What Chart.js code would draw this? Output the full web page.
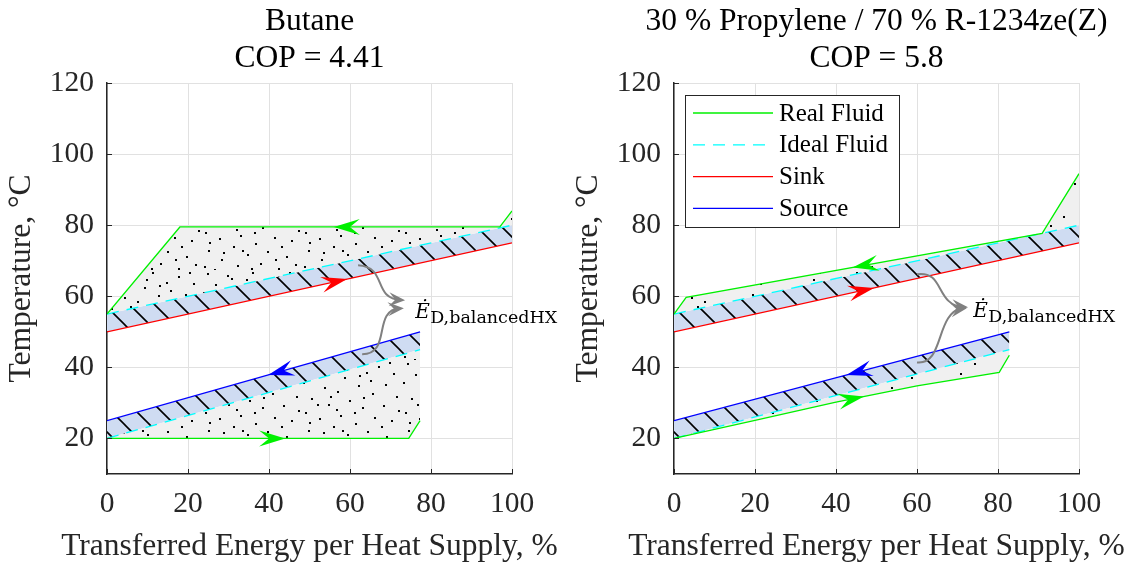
<!DOCTYPE html>
<html>
<head>
<meta charset="utf-8">
<script src="https://cdn.jsdelivr.net/npm/chart.js@4.4.0/dist/chart.umd.min.js"></script>
<style>
  html, body { margin: 0; padding: 0; background: #fff; }
  #wrap { width: 1134px; height: 567px; display: flex; }
  canvas { display: block; }
</style>
</head>
<body>
<div id="wrap">
  <canvas id="left" width="567" height="567"></canvas>
  <canvas id="right" width="567" height="567"></canvas>
</div>
<script>
// tick labels
const xTicks = [0, 20, 40, 60, 80, 100];
const yTicks = [20, 40, 60, 80, 100, 120];
const xTitle = 'Transferred Energy per Heat Supply, %';
const yTitle = 'Temperature, \u00B0C';

// Butane, COP = 4.41  -> [transferred energy %, temperature °C]
const butaneRealHot = [[0, 55], [18, 79.5], [97, 79.5], [100, 84]];
const butaneIdealHot = [[0, 55], [100, 80]];
const butaneSink = [[0, 50], [100, 75]];
const butaneRealCold = [[0, 20], [74.5, 20], [77.3, 25]];
const butaneIdealCold = [[0, 20], [77.3, 45]];
const butaneSource = [[0, 25], [77.3, 50]];

// 30 % Propylene / 70 % R-1234ze(Z), COP = 5.8
const mixRealHot = [[0, 55], [3, 59.7], [90.9, 77.7], [100, 94.5]];
const mixIdealHot = [[0, 55], [100, 80]];
const mixSink = [[0, 50], [100, 75]];
const mixRealCold = [[0, 20], [20, 25.1], [40, 30.2], [60, 34.8], [80.3, 38.6], [82.8, 43.4]];
const mixIdealCold = [[0, 20], [82.8, 45]];
const mixSource = [[0, 25], [82.8, 50]];

// flow direction arrows: [series index, x position of tip, direction]
const butaneArrows = [[0, 56, -1], [2, 59.3, 1], [5, 39.8, -1], [3, 44, 1]];
const mixArrows = [[0, 44.1, -1], [2, 49.4, 1], [5, 42.6, -1], [3, 46.9, 1]];

// exergy destruction label + curved pointers (data coords)
const butaneNote = { at: [76.1, 53.8], curves: [
  [[62.0, 68.7], [69.4, 68.2], [65.4, 59.4], [73.6, 58.9]],
  [[63.0, 43.7], [70.4, 43.7], [65.4, 56.1], [73.3, 56.6]]] };
const mixNote = { at: [73.9, 54.1], curves: [
  [[60.0, 66.2], [66.9, 67.3], [64.4, 57.5], [72.6, 56.9]],
  [[60.0, 41.4], [66.9, 40.6], [64.4, 55.5], [72.3, 56.6]]] };

const GREEN = '#00f000', CYAN = '#00ffff', RED = '#ff0000', BLUE = '#0000ff';
const AXIS = '#262626';
const serif = '"Liberation Serif", "Times New Roman", serif';

// texture for the entropy regions (tile 100 x 90)
const dotSpots = [[7,3],[31,8],[52,2],[78,6],[93,13],[15,14],[44,17],[66,12],[85,24],[3,22],
  [24,27],[58,25],[37,31],[72,33],[96,36],[11,38],[49,40],[28,44],[83,45],[62,47],
  [5,52],[40,55],[19,58],[74,57],[91,60],[55,63],[33,66],[8,70],[67,71],[47,74],
  [86,76],[21,79],[60,83],[37,85],[4,86],[78,88],[95,84],[14,89],[51,88],[27,5],
  [89,2],[70,20],[17,44],[54,52],[42,70],[81,66],[30,36],[63,37],[9,62],[98,50],
  [46,9],[75,79],[23,72],[59,15],[36,49]];

function dotPattern(ctx, every) {
  const c = document.createElement('canvas');
  c.width = 100; c.height = 90;
  const g = c.getContext('2d');
  g.fillStyle = 'rgb(240,240,240)';
  g.fillRect(0, 0, 100, 90);
  g.fillStyle = '#000';
  dotSpots.filter((p, i) => i % every === 0).forEach(p => g.fillRect(p[0], p[1] % 90, 2, 2));
  return ctx.createPattern(c, 'repeat');
}

function hatchPattern(ctx) {
  const P = 25;
  const c = document.createElement('canvas');
  c.width = P; c.height = P;
  const g = c.getContext('2d');
  g.fillStyle = 'rgb(207,220,242)';
  g.fillRect(0, 0, P, P);
  g.strokeStyle = '#000';
  g.lineWidth = 1.6;
  g.beginPath();
  g.moveTo(-2, -2); g.lineTo(P + 2, P + 2);
  g.moveTo(P - 2, -2); g.lineTo(P + 2, 2);
  g.moveTo(-2, P - 2); g.lineTo(2, P + 2);
  g.stroke();
  return ctx.createPattern(c, 'repeat');
}

function arrowHead(ctx, tx, ty, ux, uy, len, wid, color) {
  const nx = -uy, ny = ux;
  ctx.beginPath();
  ctx.moveTo(tx, ty);
  ctx.lineTo(tx - ux * len + nx * wid / 2, ty - uy * len + ny * wid / 2);
  ctx.lineTo(tx - ux * len * 0.62, ty - uy * len * 0.62);
  ctx.lineTo(tx - ux * len - nx * wid / 2, ty - uy * len - ny * wid / 2);
  ctx.closePath();
  ctx.fillStyle = color;
  ctx.fill();
}

function buildChart(id, title, series, arrows, note, showLegend, dotEvery) {
  const canvas = document.getElementById(id);
  const ctx = canvas.getContext('2d');
  const grey = dotPattern(ctx, dotEvery);
  const hatch = hatchPattern(ctx);
  const line = (label, pts, color, extra) => Object.assign({
    label: label,
    data: pts.map(p => ({ x: p[0], y: p[1] })),
    borderColor: color, borderWidth: 1.3, pointRadius: 0, fill: false, tension: 0
  }, extra);

  const datasets = [
    line('Real Fluid', series[0], GREEN, { fill: { target: 1 }, backgroundColor: grey }),
    line('Ideal Fluid', series[1], CYAN, { fill: { target: 2 }, backgroundColor: hatch, borderDash: [12, 8] }),
    line('Sink', series[2], RED),
    line('Real Fluid', series[3], GREEN, { fill: { target: 4 }, backgroundColor: grey }),
    line('Ideal Fluid', series[4], CYAN, { borderDash: [12, 8] }),
    line('Source', series[5], BLUE, { fill: { target: 4 }, backgroundColor: hatch })
  ];

  const decor = {
    id: 'decor',
    afterDatasetsDraw(chart) {
      const c = chart.ctx, sx = chart.scales.x, sy = chart.scales.y;
      // flow arrows on the lines
      arrows.forEach(([si, xv, dir]) => {
        const pts = series[si];
        let k = 1;
        while (k < pts.length - 1 && xv > pts[k][0]) k++;
        const x0 = sx.getPixelForValue(pts[k - 1][0]), y0 = sy.getPixelForValue(pts[k - 1][1]);
        const x1 = sx.getPixelForValue(pts[k][0]), y1 = sy.getPixelForValue(pts[k][1]);
        const tx = sx.getPixelForValue(xv);
        const ty = y0 + (y1 - y0) * (tx - x0) / (x1 - x0);
        const L = Math.hypot(x1 - x0, y1 - y0);
        arrowHead(c, tx, ty, dir * (x1 - x0) / L, dir * (y1 - y0) / L, 26, 16, datasets[si].borderColor);
      });
      // curved pointers to the label
      c.save();
      c.strokeStyle = '#808080';
      c.lineWidth = 2;
      note.curves.forEach(cv => {
        const p = cv.map(q => [sx.getPixelForValue(q[0]), sy.getPixelForValue(q[1])]);
        c.beginPath();
        c.moveTo(p[0][0], p[0][1]);
        c.bezierCurveTo(p[1][0], p[1][1], p[2][0], p[2][1], p[3][0] - 4, p[3][1]);
        c.stroke();
        const dx = p[3][0] - p[2][0], dy = p[3][1] - p[2][1], d = Math.hypot(dx, dy);
        arrowHead(c, p[3][0], p[3][1], dx / d, dy / d, 16, 14, '#808080');
      });
      const tx = sx.getPixelForValue(note.at[0]), ty = sy.getPixelForValue(note.at[1]);
      c.fillStyle = '#000';
      c.textAlign = 'left';
      c.textBaseline = 'alphabetic';
      c.font = 'italic 20px "DejaVu Serif"';
      c.fillText('\u0116', tx, ty);
      c.font = '17.5px "DejaVu Serif"';
      c.fillText('D,balancedHX', tx + 15, ty + 5);
      c.restore();
    },
    afterDraw(chart) {
      const c = chart.ctx, a = chart.chartArea, sx = chart.scales.x, sy = chart.scales.y;
      c.save();
      const cx = (a.left + a.right) / 2;
      // titles
      c.fillStyle = '#000';
      c.font = '31.5px ' + serif;
      c.textAlign = 'center';
      c.textBaseline = 'alphabetic';
      c.fillText(title[0], cx, 30);
      c.fillText(title[1], cx, 67);
      // x axis title (full width, not squeezed to the plot width)
      c.fillStyle = AXIS;
      c.fillText(xTitle, cx, 555);
      // inward tick marks
      c.strokeStyle = AXIS;
      c.lineWidth = 1;
      c.beginPath();
      xTicks.forEach(v => { const p = Math.round(sx.getPixelForValue(v)) + 0.5; c.moveTo(p, a.bottom); c.lineTo(p, a.bottom - 5); });
      yTicks.forEach(v => { const p = Math.round(sy.getPixelForValue(v)) + 0.5; c.moveTo(a.left, p); c.lineTo(a.left + 5, p); });
      c.stroke();
      // legend box
      if (showLegend) {
        const bx = a.left + 11, by = a.top + 12;
        c.fillStyle = '#fff';
        c.fillRect(bx, by, 214, 132);
        c.strokeStyle = AXIS;
        c.lineWidth = 1;
        c.strokeRect(bx + 0.5, by + 0.5, 214, 132);
        const items = [datasets[0], datasets[1], datasets[2], datasets[5]];
        c.font = '25px ' + serif;
        c.textAlign = 'left';
        c.textBaseline = 'middle';
        items.forEach((d, i) => {
          const y = by + 18 + i * 31.8;
          c.strokeStyle = d.borderColor;
          c.lineWidth = 1.3;
          c.setLineDash(d.borderDash || []);
          c.beginPath();
          c.moveTo(bx + 8, y); c.lineTo(bx + 88, y);
          c.stroke();
          c.setLineDash([]);
          c.fillStyle = '#000';
          c.fillText(d.label, bx + 94, y + 1);
        });
      }
      c.restore();
    }
  };

  return new Chart(ctx, {
    type: 'line',
    data: { datasets: datasets },
    options: {
      responsive: false,
      devicePixelRatio: 1,
      animation: false,
      events: [],
      layout: { padding: { top: 83, right: 55, bottom: 0, left: 0 } },
      plugins: {
        legend: { display: false },
        tooltip: { enabled: false },
        filler: { drawTime: 'beforeDatasetsDraw' }
      },
      scales: {
        x: {
          type: 'linear', min: 0, max: 100,
          afterBuildTicks: s => { s.ticks = xTicks.map(v => ({ value: v })); },
          afterFit: s => { s.height = 93; },
          grid: { color: '#e1e1e1', drawTicks: false },
          border: { color: AXIS, width: 1.5 },
          ticks: { color: AXIS, padding: 13, font: { family: serif, size: 29.5 } }
        },
        y: {
          type: 'linear', min: 10, max: 120,
          afterBuildTicks: s => { s.ticks = yTicks.map(v => ({ value: v })); },
          afterFit: s => { s.width = 107; },
          grid: { color: '#e1e1e1', drawTicks: false },
          border: { color: AXIS, width: 1.5 },
          ticks: { color: AXIS, padding: 13, font: { family: serif, size: 29.5 } },
          title: { display: true, text: yTitle, color: AXIS,
                   padding: { top: 3, bottom: 0 }, font: { family: serif, size: 31.5 } }
        }
      }
    },
    plugins: [decor]
  });
}

buildChart('left', ['Butane', 'COP = 4.41'],
  [butaneRealHot, butaneIdealHot, butaneSink, butaneRealCold, butaneIdealCold, butaneSource],
  butaneArrows, butaneNote, false, 1);

buildChart('right', ['30 % Propylene / 70 % R-1234ze(Z)', 'COP = 5.8'],
  [mixRealHot, mixIdealHot, mixSink, mixRealCold, mixIdealCold, mixSource],
  mixArrows, mixNote, true, 2);
</script>
</body>
</html>
